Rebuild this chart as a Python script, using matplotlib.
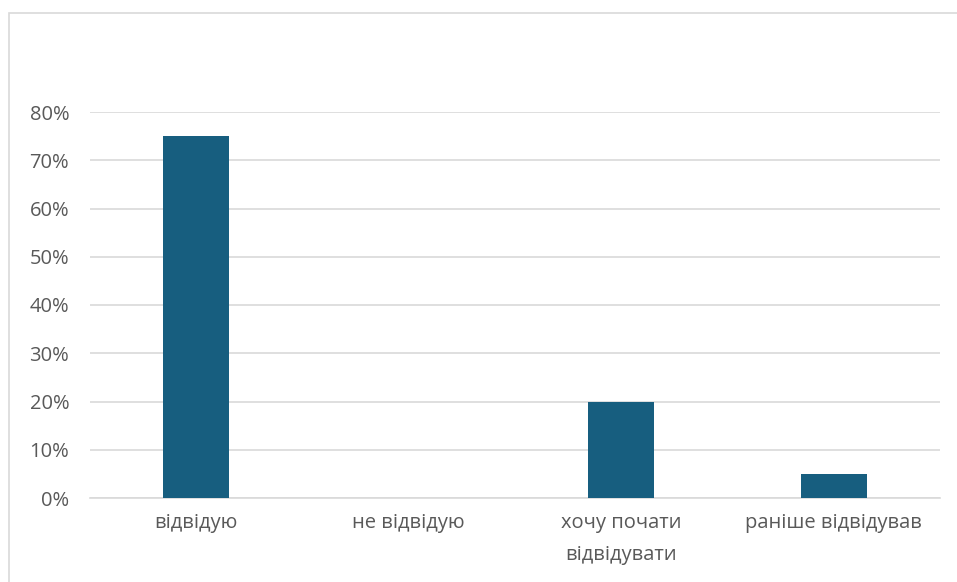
import matplotlib.pyplot as plt
from matplotlib.patches import Rectangle
from matplotlib.ticker import PercentFormatter

categories = ["відвідую", "не відвідую", "хочу почати\nвідвідувати", "раніше відвідував"]
shares = [0.75, 0.0, 0.20, 0.05]
y_ticks = [0.0, 0.1, 0.2, 0.3, 0.4, 0.5, 0.6, 0.7, 0.8]

plt.rcParams['font.family'] = ['Open Sans', 'DejaVu Sans']
text_color = "#595959"

fig = plt.figure(figsize=(9.57, 5.82), dpi=100)
# chart frame
fig.patches.append(Rectangle((9 / 957, -0.01), 1.0, 1 - 13 / 582 + 0.01,
                             transform=fig.transFigure, fill=False,
                             edgecolor="#D9D9D9", linewidth=1.2))

ax = fig.add_axes([90 / 957, 1 - 498 / 582, 850 / 957, 386 / 582])
x = range(len(categories))
ax.bar(x, shares, width=0.31, color="#175E7F", linewidth=0, zorder=3)

ax.set_xlim(-0.5, len(categories) - 0.5)
ax.set_ylim(0, 0.8)
ax.set_yticks(y_ticks)
ax.yaxis.set_major_formatter(PercentFormatter(1.0, decimals=0))
ax.set_xticks(list(x))
ax.set_xticklabels(categories, linespacing=1.75)

ax.grid(axis="y", color="#D9D9D9", linewidth=1.2, zorder=0)
for side in ["top", "right", "left"]:
    ax.spines[side].set_visible(False)
ax.spines["bottom"].set_color("#D9D9D9")
ax.spines["bottom"].set_linewidth(1.2)
ax.tick_params(axis="both", length=0, labelsize=14.5, colors=text_color)
ax.tick_params(axis="y", pad=15)
ax.tick_params(axis="x", pad=11)

fig.savefig("out.png", dpi=100)
